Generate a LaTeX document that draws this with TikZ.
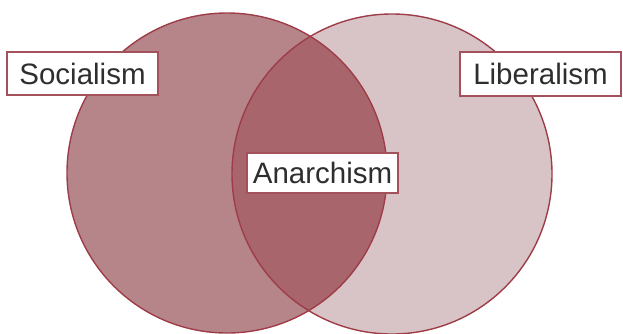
\documentclass[tikz,border=0pt]{standalone}
\usepackage{fontspec}
\setmainfont{Liberation Sans}
\definecolor{leftfill}{HTML}{B6858A}
\definecolor{rightfill}{HTML}{D8C4C6}
\definecolor{midfill}{HTML}{A8666C}
\definecolor{rimcol}{HTML}{9E3D48}
\definecolor{boxrim}{HTML}{A3525C}
\definecolor{txtcol}{HTML}{2E2E2E}
\begin{document}
\begin{tikzpicture}[x=1pt,y=-1pt,
  setlabel/.style={draw=boxrim,line width=1.3pt,fill=white,text=txtcol,
    inner sep=0pt,font=\fontsize{29.5}{30}\selectfont,anchor=center}]
\useasboundingbox (0,0) rectangle (623,333);
\coordinate (cl) at (227,173);
\coordinate (cr) at (392,174);
\fill[leftfill] (cl) circle[radius=160];
\fill[rightfill] (cr) circle[radius=160];
\begin{scope}
  \clip (cl) circle[radius=160];
  \fill[midfill] (cr) circle[radius=160];
\end{scope}
\draw[rimcol,line width=1.4pt] (cl) circle[radius=160];
\draw[rimcol,line width=1.4pt] (cr) circle[radius=160];
\node[setlabel,minimum width=151pt,minimum height=43pt] (soc) at (82.5,73.5) {Socialism};
\node[setlabel,minimum width=161pt,minimum height=44pt] (lib) at (540.5,74) {Liberalism};
\node[setlabel,minimum width=151pt,minimum height=40pt] (ana) at (322.5,173) {Anarchism};
\end{tikzpicture}
\end{document}
